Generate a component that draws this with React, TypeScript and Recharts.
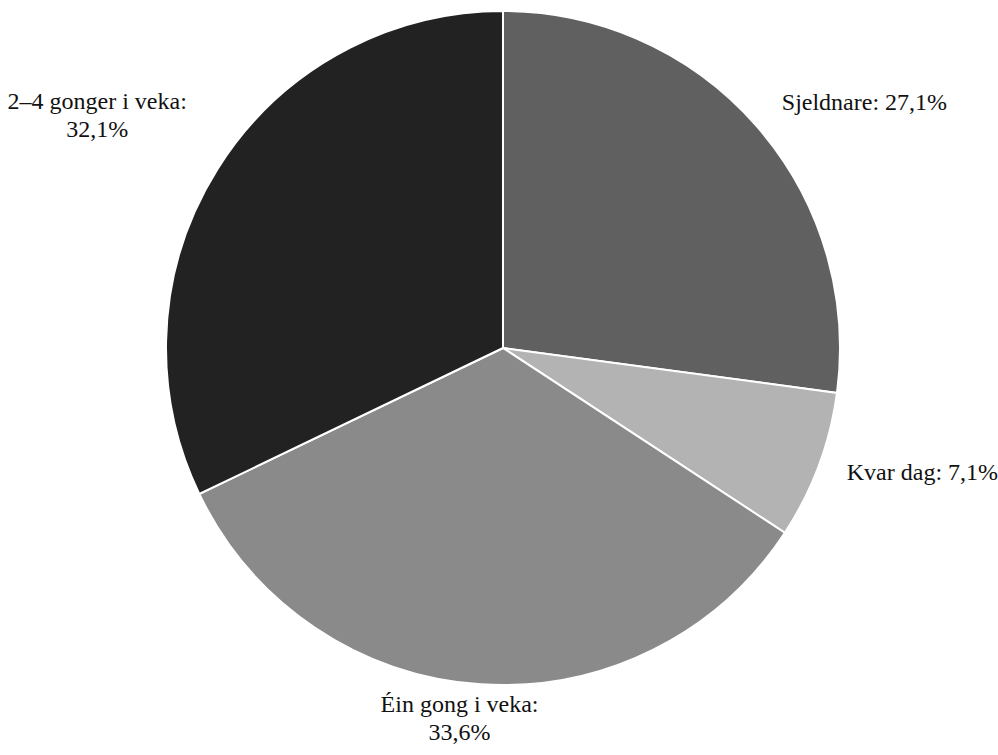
import { PieChart, Pie, Cell } from 'recharts'

const categories = ['Sjeldnare', 'Kvar dag', 'Éin gong i veka', '2–4 gonger i veka']
const shares = [27.1, 7.1, 33.6, 32.1]
const sliceColors = ['#606060', '#b3b3b3', '#8a8a8a', '#222222']

const W = 998
const H = 755
const FONT = 'Liberation Serif'
const FONT_SIZE = 24
const LINE_H = 28

// small hand tweaks so the labels sit where the original put them
const labelNudge = [
  { dx: -4, dy: -2 },
  { dx: 0, dy: -6 },
  { dx: -19, dy: 0 },
  { dx: 0, dy: -36 },
]

// rough width guess for a serif face, about 0.45em per character
const textWidth = (s: string) => s.length * FONT_SIZE * 0.45

const fmt = (v: number) => `${v.toFixed(1).replace('.', ',')}%`

const chartData = categories.map((name, i) => ({ name, value: shares[i] }))

function renderLabel(props: any) {
  const { cx, cy, midAngle, outerRadius, index } = props
  const RAD = Math.PI / 180
  const r = outerRadius * 1.1
  const cos = Math.cos(-midAngle * RAD)
  const x = cx + r * cos
  const y = cy + r * Math.sin(-midAngle * RAD)

  const name = `${categories[index]}:`
  const pct = fmt(shares[index])
  const single = `${name} ${pct}`
  const side = Math.abs(cos) < 0.2 ? 'center' : cos > 0 ? 'right' : 'left'
  const room = side === 'right' ? W - x : side === 'left' ? x : 0
  const lines = side !== 'center' && textWidth(single) <= room * 1.2 ? [single] : [name, pct]
  const blockW = Math.max(...lines.map(textWidth))

  let left
  if (side === 'right') left = Math.min(x, W - blockW)
  else if (side === 'left') left = Math.max(0, x - blockW)
  else left = x - blockW / 2
  const nudge = labelNudge[index]
  const mid = left + blockW / 2 + nudge.dx
  const top = y + nudge.dy - ((lines.length - 1) / 2) * LINE_H

  return (
    <text
      key={`lbl-${index}`}
      x={mid}
      y={top}
      textAnchor="middle"
      dominantBaseline="central"
      fill="#111111"
      fontFamily={FONT}
      fontSize={FONT_SIZE}
    >
      {lines.map((t, i) => (
        <tspan key={i} x={mid} y={top + i * LINE_H}>
          {t}
        </tspan>
      ))}
    </text>
  )
}

export default function App() {
  return (
    <div style={{ position: 'absolute', left: 0, top: 0, width: W, height: H, background: '#fff' }}>
      <PieChart width={W} height={H} margin={{ top: 0, right: 0, bottom: 0, left: 0 }}>
        <Pie
          data={chartData}
          dataKey="value"
          nameKey="name"
          cx={503}
          cy={348}
          outerRadius={337}
          startAngle={90}
          endAngle={-270}
          stroke="#ffffff"
          strokeWidth={2}
          label={renderLabel}
          labelLine={false}
          isAnimationActive={false}
        >
          {chartData.map((d, i) => (
            <Cell key={d.name} fill={sliceColors[i]} />
          ))}
        </Pie>
      </PieChart>
    </div>
  )
}
